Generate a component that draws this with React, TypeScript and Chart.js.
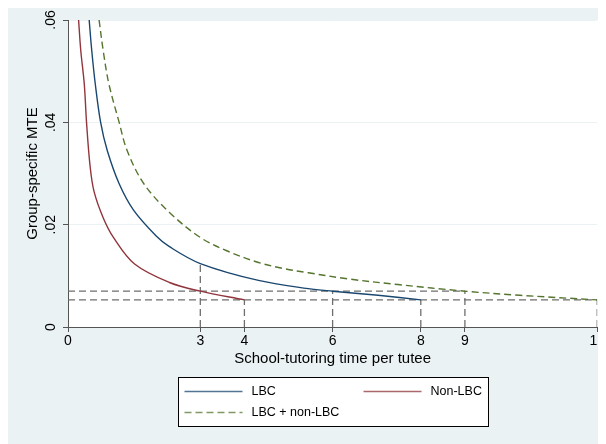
import React, { useEffect, useRef } from 'react';
import { Chart, registerables } from 'chart.js';

Chart.register(...registerables);

// Series (x = tutoring time, y = MTE)
const lbcX = [0.48, 0.54, 0.62, 0.74, 0.89, 1.16, 1.49, 2.0, 2.3, 3, 4.32, 5.45, 6, 7.03, 8];
const lbcY = [0.06, 0.0539, 0.0474, 0.04, 0.0345, 0.028, 0.0228, 0.0178, 0.0157, 0.0124, 0.0091, 0.0075, 0.007, 0.0062, 0.0053];
const nonX = [0.24, 0.29, 0.37, 0.42, 0.5, 0.59, 0.8, 1.03, 1.51, 2.3, 3, 4];
const nonY = [0.06, 0.054, 0.0474, 0.04, 0.0315, 0.0265, 0.0213, 0.0175, 0.0123, 0.0087, 0.007, 0.0053];
const allX = [0.705, 0.8, 0.93, 1.16, 1.34, 1.72, 2.3, 3, 3.6, 4.32, 4.9, 5.45, 6.35, 7.48, 9, 10.25, 12];
const allY = [0.06, 0.0539, 0.0474, 0.04, 0.0345, 0.028, 0.0224, 0.0175, 0.0149, 0.0126, 0.0114, 0.0106, 0.0094, 0.0083, 0.007, 0.0062, 0.0053];

// Reference (drop) lines
const dropX = [3, 4, 6, 8, 9, 12];
const dropTop = [0.0124, 0.0053, 0.007, 0.0053, 0.007, 0.0053];
const levelY = [0.007, 0.0053];
const levelEnd = [9, 12];

// Axes
const xTicks = [0, 3, 4, 6, 8, 9, 12];
const yTicks = [0, 0.02, 0.04, 0.06];
const yTickLabels = ['0', '.02', '.04', '.06'];
const xTitle = 'School-tutoring time per tutee';
const yTitle = 'Group-specific MTE';
const seriesNames = ['LBC', 'Non-LBC', 'LBC + non-LBC'];

const FONT = "'Liberation Sans', Arial, Helvetica, sans-serif";
const BG = '#EAF2F3';
const AXIS = '#555555';
const BLUE = '#1A476F';
const RED = '#90353B';
const GREEN = '#55752F';
const REF = '#6E6E6E';

const zip = (xs: number[], ys: number[]) => xs.map((x, i) => ({ x, y: ys[i] }));

const bgPlugin = {
  id: 'bgPlugin',
  beforeDraw(chart: any) {
    const { ctx, chartArea } = chart;
    ctx.save();
    ctx.fillStyle = BG;
    ctx.fillRect(0, 0, chart.width, chart.height);
    ctx.fillStyle = '#FFFFFF';
    ctx.fillRect(chartArea.left, chartArea.top, chartArea.right - chartArea.left + 1, chartArea.bottom - chartArea.top);
    ctx.restore();
  },
};

const legendPlugin = {
  id: 'customLegend',
  afterDraw(chart: any) {
    const { ctx, chartArea } = chart;
    const cx = (chartArea.left + chartArea.right) / 2;
    const w = 310;
    const left = Math.round(cx - w / 2) + 0.5;
    const top = chartArea.bottom + 50.5;
    const h = 49;
    ctx.save();
    ctx.fillStyle = '#FFFFFF';
    ctx.fillRect(left, top, w, h);
    ctx.strokeStyle = '#000000';
    ctx.lineWidth = 1;
    ctx.strokeRect(left, top, w, h);
    const items = [
      { ds: chart.data.datasets[0], lx: left + 6, row: 0 },
      { ds: chart.data.datasets[1], lx: left + 185, row: 0 },
      { ds: chart.data.datasets[2], lx: left + 6, row: 1 },
    ];
    ctx.font = `12.5px ${FONT}`;
    ctx.textBaseline = 'middle';
    ctx.textAlign = 'left';
    items.forEach((it) => {
      const y = top + 14 + it.row * 21;
      ctx.beginPath();
      ctx.strokeStyle = it.ds.borderColor;
      ctx.globalAlpha = 0.75;
      ctx.lineWidth = 1.5;
      ctx.setLineDash(it.ds.borderDash || []);
      ctx.moveTo(it.lx, y);
      ctx.lineTo(it.lx + 58, y);
      ctx.stroke();
      ctx.setLineDash([]);
      ctx.globalAlpha = 1;
      ctx.fillStyle = '#000000';
      ctx.fillText(it.ds.label, it.lx + 67, y + 0.5);
    });
    ctx.restore();
  },
};

export default function App() {
  const ref = useRef<HTMLCanvasElement | null>(null);

  useEffect(() => {
    if (!ref.current) return;
    const refSets: any[] = [];
    dropX.forEach((x, i) => {
      refSets.push({
        label: 'drop' + i,
        data: [{ x, y: 0 }, { x, y: dropTop[i] }],
        borderColor: REF,
        borderWidth: 1.3,
        borderDash: [7, 4],
        pointRadius: 0,
        tension: 0,
      });
    });
    levelY.forEach((y, i) => {
      refSets.push({
        label: 'level' + i,
        data: [{ x: 0, y }, { x: levelEnd[i], y }],
        borderColor: REF,
        borderWidth: 1.3,
        borderDash: [7, 4],
        pointRadius: 0,
        tension: 0,
      });
    });

    const curve = (label: string, xs: number[], ys: number[], color: string, dash?: number[]) => ({
      label,
      data: zip(xs, ys),
      borderColor: color,
      borderWidth: 1.4,
      borderDash: dash,
      pointRadius: 0,
      tension: 0.35,
    });

    const chart = new Chart(ref.current, {
      type: 'line',
      data: {
        datasets: [
          curve(seriesNames[0], lbcX, lbcY, BLUE),
          curve(seriesNames[1], nonX, nonY, RED),
          curve(seriesNames[2], allX, allY, GREEN, [7, 4]),
          ...refSets,
        ],
      },
      options: {
        animation: false,
        responsive: false,
        maintainAspectRatio: false,
        layout: { padding: { left: 0, top: 15, right: 5, bottom: 76 } },
        plugins: { legend: { display: false }, tooltip: { enabled: false } },
        scales: {
          x: {
            type: 'linear',
            min: 0,
            max: 12,
            afterBuildTicks: (scale: any) => {
              scale.ticks = xTicks.map((v) => ({ value: v }));
            },
            afterFit: (scale: any) => {
              scale.height = 41;
            },
            ticks: {
              color: '#000000',
              font: { family: FONT, size: 14 },
              padding: 1,
              maxRotation: 0,
              autoSkip: false,
              callback: (v: any) => String(v),
            },
            grid: {
              drawOnChartArea: false,
              drawTicks: true,
              tickLength: 5,
              tickColor: AXIS,
              tickWidth: 1,
            },
            border: { display: true, color: AXIS, width: 1 },
            title: {
              display: true,
              text: xTitle,
              color: '#000000',
              font: { family: FONT, size: 15 },
              padding: { top: 0, bottom: 0 },
            },
          },
          y: {
            type: 'linear',
            min: 0,
            max: 0.06,
            afterBuildTicks: (scale: any) => {
              scale.ticks = yTicks.map((v) => ({ value: v }));
            },
            afterFit: (scale: any) => {
              scale.width = 60;
            },
            ticks: {
              color: '#000000',
              font: { family: FONT, size: 14 },
              padding: 2,
              minRotation: 90,
              maxRotation: 90,
              crossAlign: 'center',
              autoSkip: false,
              callback: (v: any) => {
                const i = yTicks.findIndex((t) => Math.abs(t - v) < 1e-9);
                return i >= 0 ? yTickLabels[i] : '';
              },
            },
            grid: {
              drawOnChartArea: true,
              color: BG,
              lineWidth: 1,
              drawTicks: true,
              tickLength: 5,
              tickColor: AXIS,
              tickWidth: 1,
            },
            border: { display: true, color: AXIS, width: 1 },
            title: {
              display: true,
              text: yTitle,
              color: '#000000',
              font: { family: FONT, size: 15 },
              padding: { top: 16, bottom: 0 },
            },
          },
        },
      },
      plugins: [bgPlugin, legendPlugin],
    } as any);
    return () => chart.destroy();
  }, []);

  return (
    <div style={{ position: 'relative', top: -3, width: 598, height: 439 }}>
      <canvas ref={ref} width={598} height={439} style={{ display: 'block', width: 598, height: 439 }} />
    </div>
  );
}
